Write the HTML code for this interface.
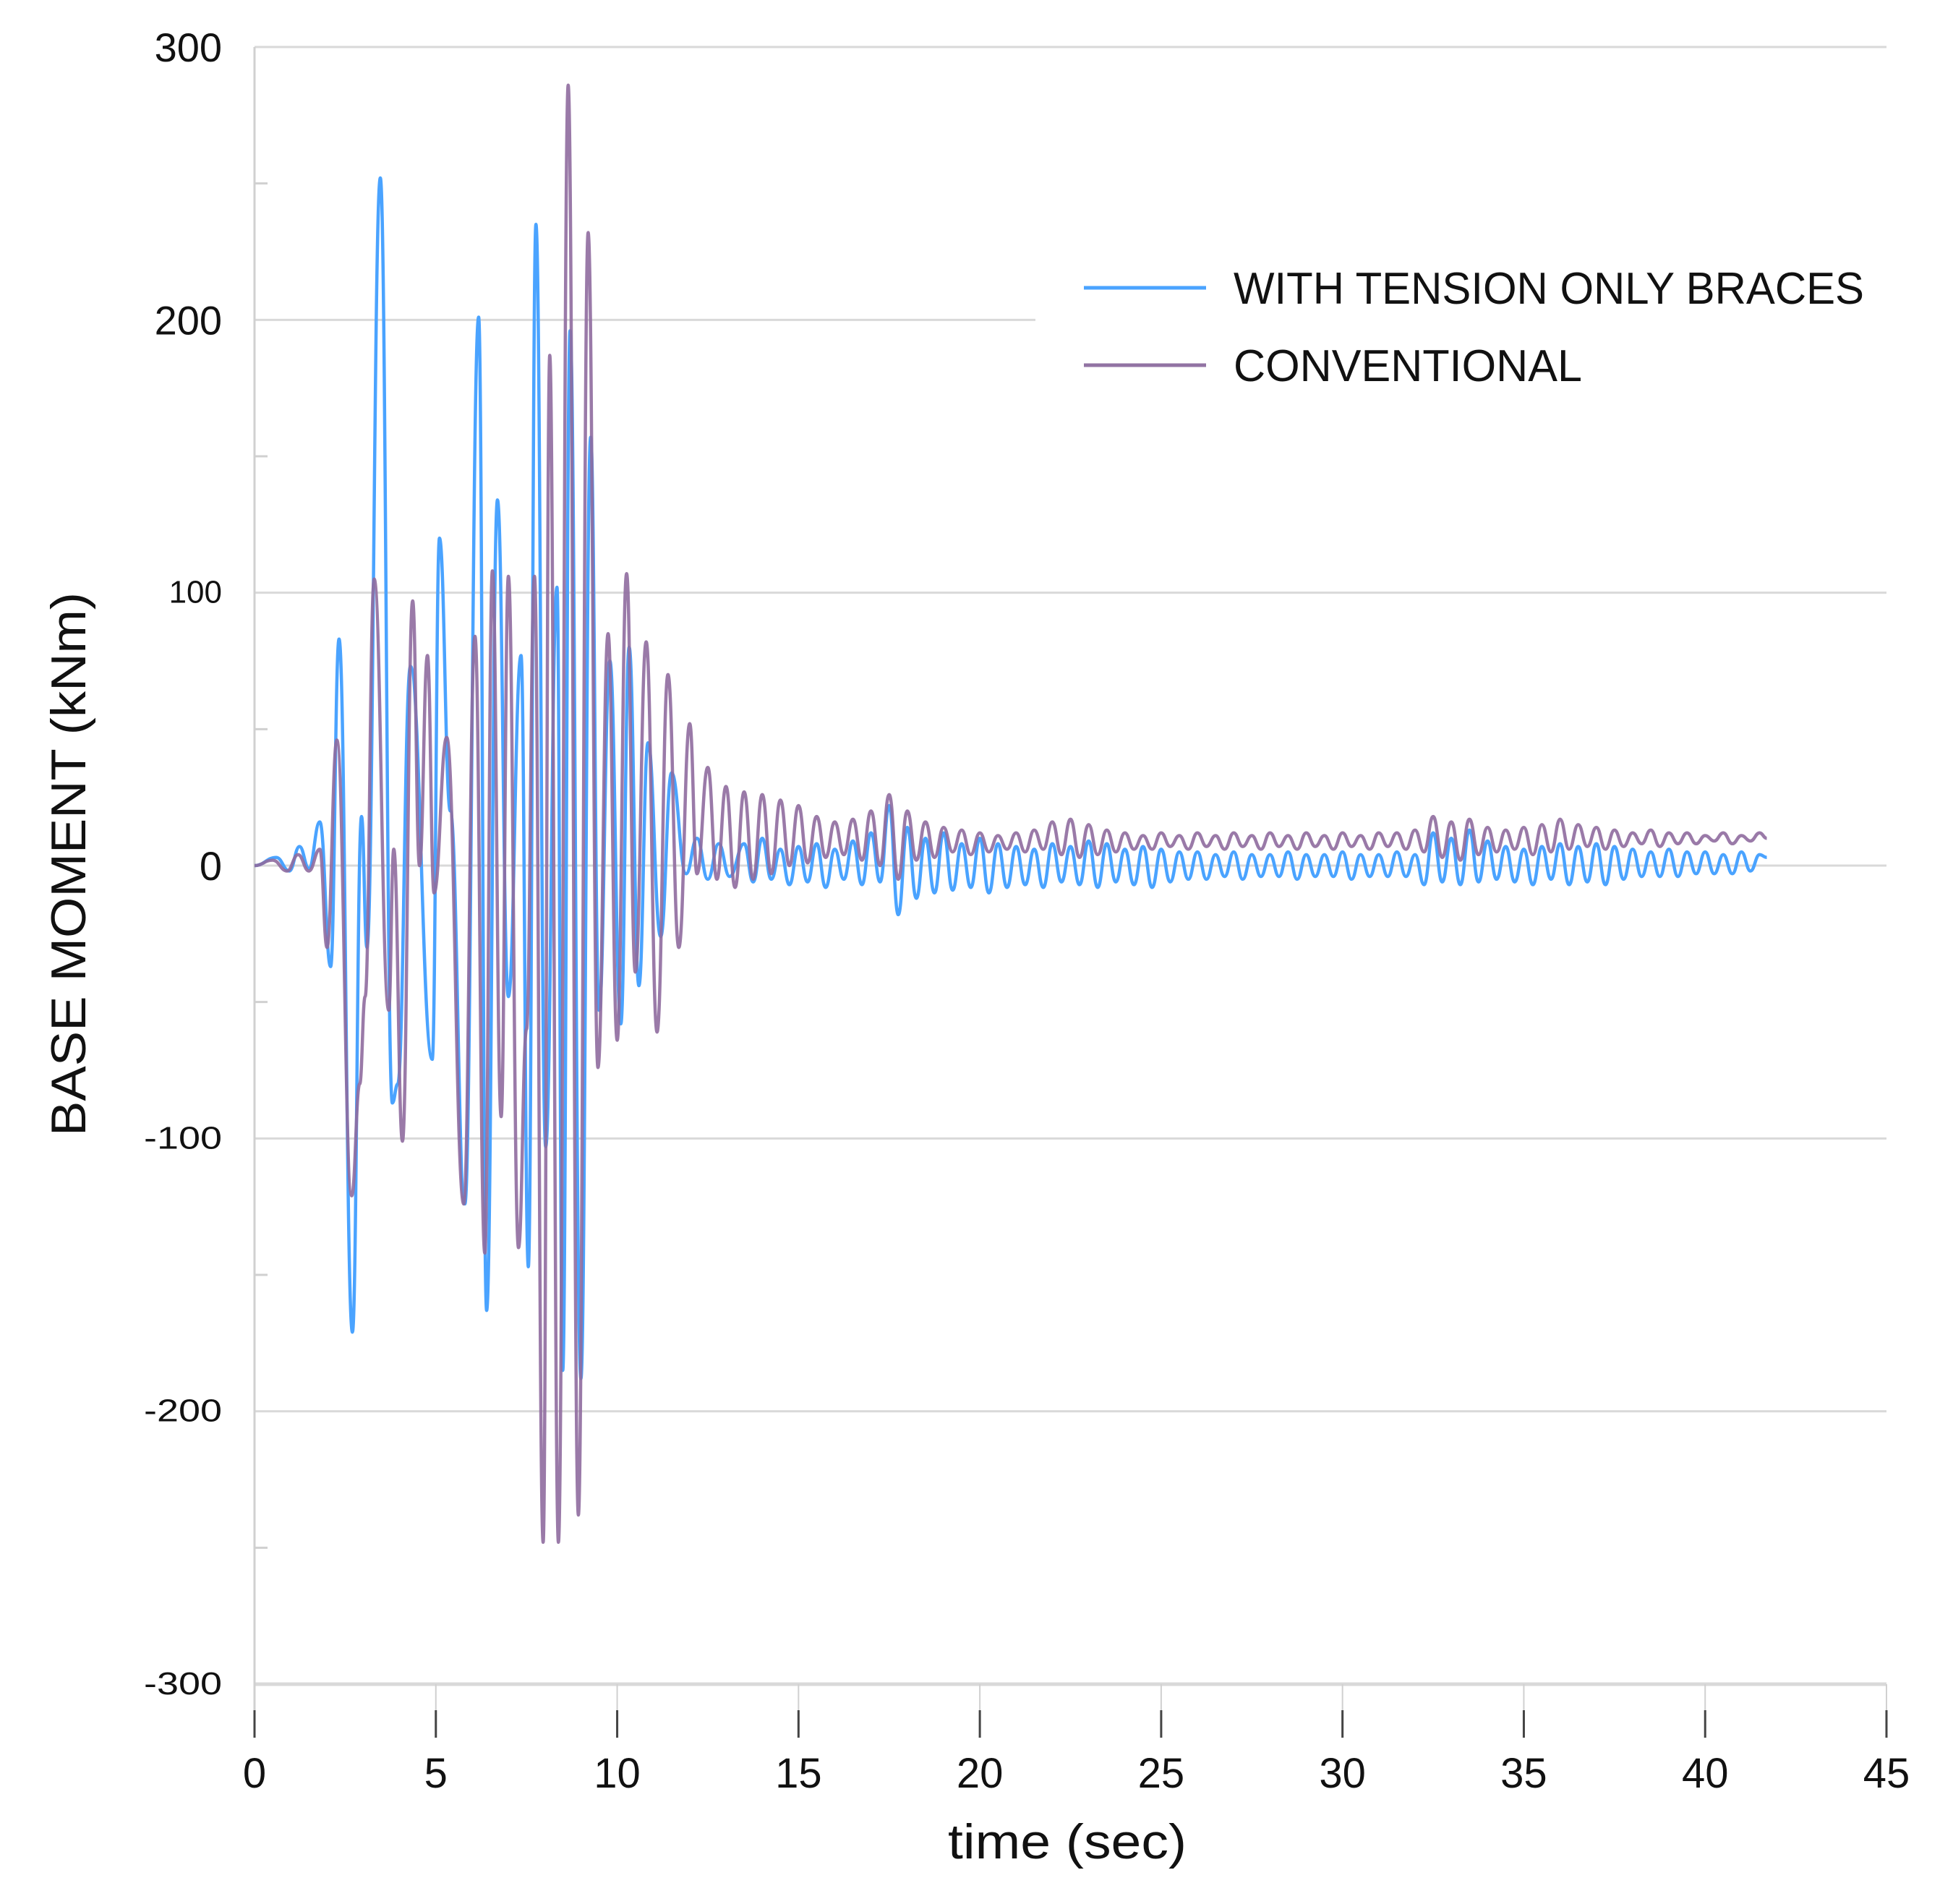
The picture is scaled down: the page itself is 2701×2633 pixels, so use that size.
<!DOCTYPE html>
<html><head><meta charset="utf-8"><style>
html,body{margin:0;padding:0;background:#fff;}
svg{display:block;}
text{font-family:"Liberation Sans",sans-serif;fill:#111;}
</style></head><body>
<svg id="chart" width="2701" height="2633" viewBox="0 0 2701 2633" xmlns="http://www.w3.org/2000/svg">
<g id="grid"></g>
<g id="axes"></g>
<g id="series"></g>
<g id="legend">
  <rect x="1432" y="330" width="1176" height="222" fill="#fff"/>
  <line x1="1499" y1="398" x2="1668" y2="398" stroke="#4aa3ff" stroke-width="5"/>
  <text x="1706" y="420" font-size="62" textLength="872" lengthAdjust="spacingAndGlyphs">WITH TENSION ONLY BRACES</text>
  <line x1="1499" y1="505" x2="1668" y2="505" stroke="#9273a3" stroke-width="5"/>
  <text x="1706" y="527" font-size="62" textLength="482" lengthAdjust="spacingAndGlyphs">CONVENTIONAL</text>
</g>
<text transform="translate(118,1195) rotate(-90)" text-anchor="middle" font-size="68" textLength="752" lengthAdjust="spacingAndGlyphs">BASE MOMENT (kNm)</text>
<text x="1476" y="2570" text-anchor="middle" font-size="68" textLength="330" lengthAdjust="spacingAndGlyphs">time (sec)</text>
</svg>
<script>
// ---- data ----
const xTicks = [0,5,10,15,20,25,30,35,40,45];
const yTicks = [300,200,100,0,-100,-200,-300];
const yMinor = [250,150,50,-50,-150,-250];
// Blue (tension only braces) main peaks
const blueT = [0,0.6,0.96,1.24,1.5,1.8,2.1,2.33,2.7,2.95,3.1,3.47,3.8,3.95,4.3,4.9,5.1,5.4,5.8,6.18,6.4,6.7,7.0,7.35,7.55,7.76,8.03,8.34,8.5,8.7,9.0,9.27,9.5,9.8,10.1,10.33,10.6,10.85,11.2,11.5,11.9,12.2,12.5,12.8,13.1];
const blueV = [0,3,-2,7,-1,16,-37,83,-171,18,-30,252,-87,-80,73,-71,120,20,-124,201,-163,134,-48,77,-147,235,-103,102,-185,196,-188,157,-53,75,-58,80,-44,45,-26,34,-3,10,-5,8,-4];
// Blue later oscillation: maxima from t=13.5 every 0.5s, minima from 13.75 every 0.5s
const blueMax = [8,10,6,7,8,6,9,12,22,14,10,12,8,10,8,7,6,8,7,9,8,6,7,6,5,5,4,5,4,4,5,4,4,5,4,4,5,4,12,10,13,9,7,6,7,8,7,8,7,6,5,6,5,5,4,5,4];
const blueMin = [-6,-5,-7,-6,-8,-5,-7,-6,-18,-12,-10,-9,-8,-10,-8,-7,-8,-6,-7,-8,-6,-7,-8,-6,-5,-5,-4,-5,-4,-4,-5,-4,-4,-5,-4,-4,-4,-7,-6,-7,-6,-5,-6,-7,-5,-7,-6,-7,-5,-4,-4,-4,-3,-3,-3,-2];
const blueEnd = [41.7,3];
// Purple (conventional)
const purpT = [0,0.5,0.9,1.2,1.5,1.8,2.0,2.27,2.68,2.9,3.05,3.3,3.7,3.84,4.08,4.36,4.55,4.77,4.95,5.3,5.77,6.08,6.35,6.56,6.8,7.0,7.28,7.5,7.72,7.96,8.14,8.38,8.65,8.93,9.2,9.47,9.75,10.0,10.26,10.5,10.8,11.1,11.4,11.7,12.0,12.2,12.5,12.75,13.0,13.25];
const purpV = [0,2,-2,4,-2,6,-30,46,-121,-80,-48,105,-53,6,-101,97,0,77,-10,47,-124,84,-142,108,-92,106,-140,-60,106,-248,187,-248,286,-238,232,-74,85,-64,107,-39,82,-61,70,-30,52,-3,36,-5,29,-8];
const purpMax = [27,26,24,22,18,16,17,20,26,20,16,14,13,12,11,12,13,16,17,15,13,12,11,12,11,12,11,12,11,12,11,12,11,12,11,12,12,13,18,16,17,14,13,14,15,17,15,14,13,12,13,12,12,11,12,11,12];
const purpMin = [-5,-3,0,1,3,4,2,0,-5,2,3,5,4,5,6,5,6,4,3,4,5,6,6,7,6,7,6,7,6,7,6,7,6,7,6,7,6,5,3,2,4,5,6,4,5,6,7,6,7,8,7,8,8,9,8,9];
const purpEnd = [41.7,10];

// ---- scales ----
const X0=352, X1=2609, Y300=65, Yn300=2329;
const sx = t => X0 + (t/45)*(X1-X0);
const sy = v => Y300 + (300-v)/600*(Yn300-Y300);
const NS="http://www.w3.org/2000/svg";
function mk(tag, attrs, parent){const e=document.createElementNS(NS,tag);for(const k in attrs)e.setAttribute(k,attrs[k]);parent.appendChild(e);return e;}

const grid=document.getElementById('grid'), axes=document.getElementById('axes'), series=document.getElementById('series');
yTicks.forEach(v=>{
  const xEnd = (v===200)?1432:X1;
  const l=mk('line',{x1:X0,x2:xEnd,y1:sy(v),y2:sy(v),stroke:'#d9d9d9','stroke-width':(v===-300?5:3)},grid);
  
  
  const small = (v!==300 && v!==200 && v!==0);
  const tx=mk('text',{x:307,y:sy(v)+(small?14:20),'text-anchor':'end','font-size':small?44:56},axes);
  if(small && v<0){tx.setAttribute('textLength', 108);tx.setAttribute('lengthAdjust','spacingAndGlyphs');}
  tx.textContent=v;
  
  
});
yMinor.forEach(v=>{
  const l=mk('line',{x1:X0,x2:X0+18,y1:sy(v),y2:sy(v),stroke:'#d0d0d0','stroke-width':3},grid);
  
  
});
const yAx=mk('line',{x1:X0,x2:X0,y1:Y300,y2:2365,stroke:'#d0d0d0','stroke-width':3},axes);


xTicks.forEach(t=>{
  const g=mk('line',{x1:sx(t),x2:sx(t),y1:Yn300,y2:2365,stroke:'#d0d0d0','stroke-width':2},axes);
  
  
  const k=mk('line',{x1:sx(t),x2:sx(t),y1:2365,y2:2403,stroke:'#444','stroke-width':3},axes);
  
  
  const tx=mk('text',{x:sx(t),y:2472,'text-anchor':'middle','font-size':58},axes);
  tx.textContent=t;
  
  
});

function buildPoints(T,V,mx,mn,end){
  const pts=T.map((t,i)=>[t,V[i]]);
  const n=Math.max(mx.length,mn.length);
  for(let i=0;i<n;i++){
    const tMax=13.5+0.5*i, tMin=13.75+0.5*i;
    if(i<mx.length && tMax<end[0]) pts.push([tMax,mx[i]]);
    if(i<mn.length && tMin<end[0]) pts.push([tMin,mn[i]]);
  }
  pts.push(end);
  return pts;
}
function pathFrom(pts){
  let d='M'+sx(pts[0][0]).toFixed(1)+','+sy(pts[0][1]).toFixed(1);
  for(let i=1;i<pts.length;i++){
    const x0=sx(pts[i-1][0]),y0=sy(pts[i-1][1]),x1=sx(pts[i][0]),y1=sy(pts[i][1]);
    const dx=x1-x0;
    d+=' C'+(x0+dx*0.45).toFixed(1)+','+y0.toFixed(1)+' '+(x1-dx*0.45).toFixed(1)+','+y1.toFixed(1)+' '+x1.toFixed(1)+','+y1.toFixed(1);
  }
  return d;
}
const pb=mk('path',{d:pathFrom(buildPoints(blueT,blueV,blueMax,blueMin,blueEnd)),fill:'none',stroke:'#4aa3ff','stroke-width':4.5,'stroke-linejoin':'round'},series);


const pp=mk('path',{d:pathFrom(buildPoints(purpT,purpV,purpMax,purpMin,purpEnd)),fill:'none',stroke:'#8f6b9f','stroke-width':4.5,'stroke-linejoin':'round','stroke-opacity':0.9},series);


</script>
</body></html>
